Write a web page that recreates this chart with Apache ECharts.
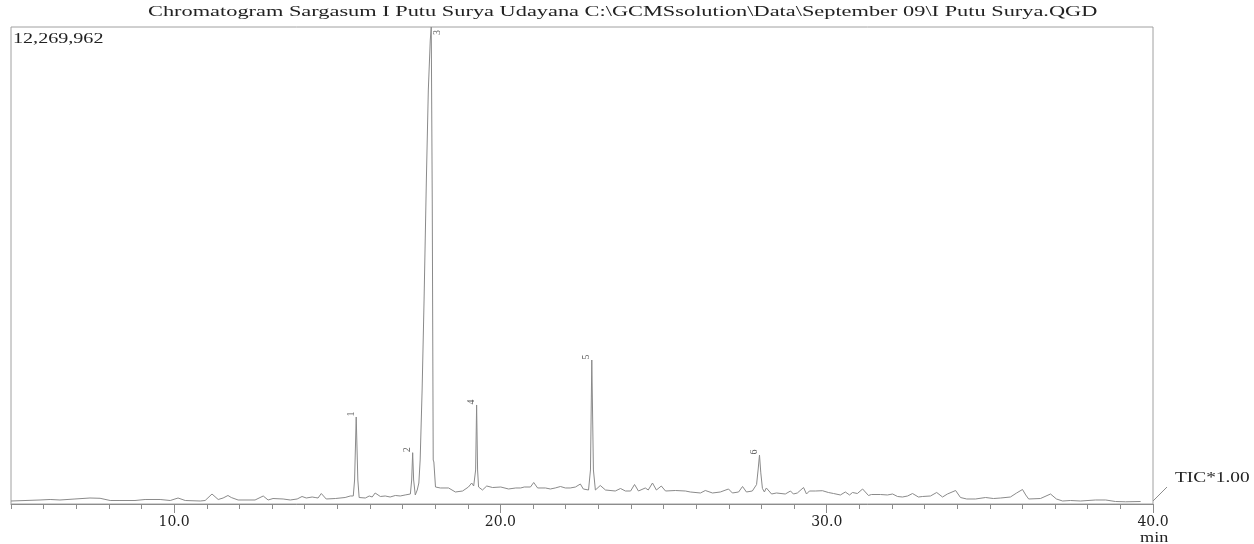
<!DOCTYPE html>
<html><head><meta charset="utf-8">
<script src="https://cdn.jsdelivr.net/npm/echarts@6/dist/echarts.min.js"></script>
<style>html,body{margin:0;padding:0;background:#fff}#c{width:1254px;height:544px}</style>
</head><body><div id="c"></div>
<script>
// Retention time (min)
const times = [5.00,5.89,6.20,6.50,6.96,7.42,7.73,8.04,8.34,8.80,9.11,9.57,9.88,10.12,10.34,10.80,10.95,11.16,11.35,11.50,11.65,11.75,11.81,11.96,12.48,12.73,12.88,13.03,13.34,13.56,13.77,13.92,14.05,14.11,14.23,14.32,14.41,14.51,14.66,14.94,15.24,15.40,15.49,15.53,15.58,15.63,15.67,15.86,15.98,16.07,16.16,16.32,16.47,16.62,16.78,16.93,17.08,17.24,17.28,17.31,17.34,17.39,17.45,17.50,17.54,17.60,17.66,17.73,17.79,17.85,17.88,17.91,17.94,17.96,18.01,18.16,18.41,18.62,18.84,19.02,19.12,19.18,19.24,19.27,19.30,19.33,19.45,19.58,19.76,20.01,20.25,20.47,20.62,20.73,20.92,21.02,21.14,21.38,21.53,21.68,21.84,21.99,22.14,22.30,22.45,22.54,22.70,22.76,22.80,22.85,22.91,23.06,23.22,23.52,23.68,23.83,23.99,24.11,24.23,24.44,24.53,24.66,24.78,24.93,25.06,25.36,25.67,25.82,26.13,26.28,26.50,26.74,26.99,27.11,27.30,27.42,27.54,27.72,27.85,27.90,27.94,27.98,28.03,28.09,28.15,28.31,28.46,28.73,28.89,28.98,29.10,29.29,29.38,29.47,29.65,29.87,30.05,30.21,30.42,30.57,30.70,30.79,30.94,31.10,31.28,31.37,31.65,31.86,32.02,32.17,32.32,32.48,32.63,32.81,32.94,33.18,33.37,33.55,33.70,33.95,34.10,34.29,34.56,34.87,35.11,35.33,35.63,35.82,36.00,36.10,36.19,36.25,36.55,36.86,37.04,37.23,37.47,37.78,38.24,38.55,38.85,39.16,39.62,40.00];
// TIC intensity
const intensity = [77000,103000,116000,103000,129000,154000,147000,90000,90000,90000,116000,116000,90000,154000,90000,77000,90000,257000,116000,154000,219000,167000,180000,103000,103000,206000,103000,141000,129000,103000,129000,193000,154000,167000,180000,167000,154000,270000,129000,141000,167000,206000,206000,617000,2238000,617000,167000,154000,206000,180000,283000,193000,206000,180000,219000,206000,232000,257000,617000,1320000,617000,232000,360000,540000,1132000,2932000,5247000,8334000,10649000,11935000,12269962,7820000,1132000,1080000,437000,412000,412000,309000,334000,437000,540000,463000,875000,2547000,875000,437000,360000,463000,424000,437000,386000,412000,412000,437000,437000,553000,412000,412000,386000,412000,450000,412000,412000,437000,514000,386000,360000,875000,3704000,875000,360000,476000,360000,334000,399000,334000,334000,502000,334000,412000,360000,540000,360000,463000,334000,347000,334000,309000,283000,347000,283000,309000,386000,283000,309000,450000,309000,334000,500000,900000,1260000,800000,400000,309000,412000,257000,283000,257000,334000,257000,283000,424000,257000,334000,334000,342000,296000,270000,232000,309000,232000,296000,270000,386000,219000,244000,244000,232000,257000,193000,180000,206000,270000,180000,193000,206000,296000,180000,257000,347000,167000,129000,129000,167000,141000,154000,180000,283000,373000,232000,129000,129000,141000,257000,129000,77000,90000,77000,103000,103000,64000,57000,64000];
// Numbered peaks
const peakTimes = [15.58, 17.31, 17.88, 19.27, 22.80, 27.94];
const peakHeights = [2238000, 1320000, 12269962, 2547000, 3704000, 1260000];
const peakLabels = ['1','2','3','4','5','6'];
const majorTicks = [10, 20, 30, 40];
const yMax = 12269962;
const titleText = 'Chromatogram Sargasum I Putu Surya Udayana C:\\GCMSsolution\\Data\\September 09\\I Putu Surya.QGD';

const serif = '"Liberation Serif","DejaVu Serif",serif';
const chart = echarts.init(document.getElementById('c'), null, {renderer:'canvas'});
const line = times.map((t,i)=>[t, intensity[i]]);
const peaks = peakTimes.map((t,i)=>({value:[t, peakHeights[i]], name:peakLabels[i],
  label: i===2 ? {position:'right', distance:1, offset:[-8,5]} : {}}));
chart.setOption({
  backgroundColor:'#fff',
  animation:false,
  grid:{left:11, right:101, top:27, bottom:40, show:true, borderColor:'#a0a0a0', borderWidth:1},
  xAxis:[{
    type:'value', min:5, max:40, interval:1,
    axisLine:{lineStyle:{color:'#8c8c8c', width:1}},
    axisTick:{length:5, lineStyle:{color:'#8c8c8c'}},
    axisLabel:{margin:11, fontFamily:'"DejaVu Serif",serif', fontSize:14, color:'#222',
      formatter:v=> (Math.abs(v%10)<1e-9 ? v.toFixed(1) : '')},
    splitLine:{show:false}
  },{
    type:'value', min:5, max:40, position:'bottom',
    axisLine:{show:false},
    axisTick:{show:true, length:9, customValues:majorTicks, lineStyle:{color:'#8c8c8c'}},
    axisLabel:{show:false},
    splitLine:{show:false}
  }],
  yAxis:{type:'value', min:0, max:yMax, show:false, splitLine:{show:false}},
  series:[{
    type:'line', data:line, showSymbol:false, symbol:'none', clip:true,
    lineStyle:{color:'#8a8a8a', width:1}
  },{
    type:'scatter', data:peaks, symbolSize:0, silent:true,
    label:{show:true, formatter:p=>p.name, position:'top', distance:3, rotate:90,
      fontFamily:serif, fontSize:10, color:'#333'}
  }],
  graphic:[
    {type:'text', x:148, y:5, scaleX:1.49, style:{text:titleText, font:'15px '+serif, fill:'#222'}},
    {type:'text', x:13, y:32, scaleX:1.34, style:{text:'12,269,962', font:'15px '+serif, fill:'#222'}},
    {type:'text', x:1175, y:471, scaleX:1.29, style:{text:'TIC*1.00', font:'15px '+serif, fill:'#222'}},
    {type:'text', x:1140, y:531, scaleX:1.3, style:{text:'min', font:'14px '+serif, fill:'#222'}},
    {type:'line', shape:{x1:1153, y1:501, x2:1167, y2:487}, style:{stroke:'#8c8c8c', lineWidth:1}}
  ]
});
</script></body></html>
